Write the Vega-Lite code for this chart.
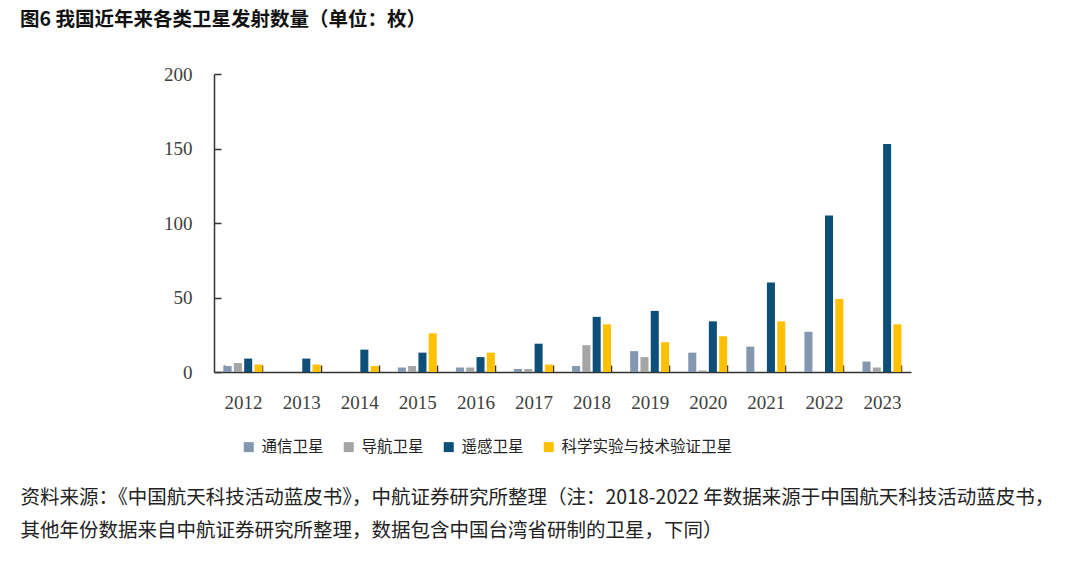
{
  "$schema": "https://vega.github.io/schema/vega-lite/v6.json",
  "autosize": "none",
  "width": 697,
  "height": 298,
  "padding": {"left": 214, "top": 74, "right": 169, "bottom": 192},
  "background": "white",
  "title": {
    "text": "图6  我国近年来各类卫星发射数量（单位：枚）",
    "anchor": "start",
    "frame": "group",
    "dx": -194,
    "offset": 35,
    "font": "Noto Sans CJK SC",
    "fontSize": 19.5,
    "fontWeight": "bold",
    "color": "#111111"
  },
  "data": {
    "values": [
      {"year": "2012", "type": "通信卫星", "value": 4},
      {"year": "2012", "type": "导航卫星", "value": 6},
      {"year": "2012", "type": "遥感卫星", "value": 9},
      {"year": "2012", "type": "科学实验与技术验证卫星", "value": 5},
      {"year": "2013", "type": "遥感卫星", "value": 9},
      {"year": "2013", "type": "科学实验与技术验证卫星", "value": 5},
      {"year": "2014", "type": "遥感卫星", "value": 15},
      {"year": "2014", "type": "科学实验与技术验证卫星", "value": 4},
      {"year": "2015", "type": "通信卫星", "value": 3},
      {"year": "2015", "type": "导航卫星", "value": 4},
      {"year": "2015", "type": "遥感卫星", "value": 13},
      {"year": "2015", "type": "科学实验与技术验证卫星", "value": 26},
      {"year": "2016", "type": "通信卫星", "value": 3},
      {"year": "2016", "type": "导航卫星", "value": 3},
      {"year": "2016", "type": "遥感卫星", "value": 10},
      {"year": "2016", "type": "科学实验与技术验证卫星", "value": 13},
      {"year": "2017", "type": "通信卫星", "value": 2},
      {"year": "2017", "type": "导航卫星", "value": 2},
      {"year": "2017", "type": "遥感卫星", "value": 19},
      {"year": "2017", "type": "科学实验与技术验证卫星", "value": 5},
      {"year": "2018", "type": "通信卫星", "value": 4},
      {"year": "2018", "type": "导航卫星", "value": 18},
      {"year": "2018", "type": "遥感卫星", "value": 37},
      {"year": "2018", "type": "科学实验与技术验证卫星", "value": 32},
      {"year": "2019", "type": "通信卫星", "value": 14},
      {"year": "2019", "type": "导航卫星", "value": 10},
      {"year": "2019", "type": "遥感卫星", "value": 41},
      {"year": "2019", "type": "科学实验与技术验证卫星", "value": 20},
      {"year": "2020", "type": "通信卫星", "value": 13},
      {"year": "2020", "type": "导航卫星", "value": 1},
      {"year": "2020", "type": "遥感卫星", "value": 34},
      {"year": "2020", "type": "科学实验与技术验证卫星", "value": 24},
      {"year": "2021", "type": "通信卫星", "value": 17},
      {"year": "2021", "type": "遥感卫星", "value": 60},
      {"year": "2021", "type": "科学实验与技术验证卫星", "value": 34},
      {"year": "2022", "type": "通信卫星", "value": 27},
      {"year": "2022", "type": "遥感卫星", "value": 105},
      {"year": "2022", "type": "科学实验与技术验证卫星", "value": 49},
      {"year": "2023", "type": "通信卫星", "value": 7},
      {"year": "2023", "type": "导航卫星", "value": 3},
      {"year": "2023", "type": "遥感卫星", "value": 153},
      {"year": "2023", "type": "科学实验与技术验证卫星", "value": 32}
    ]
  },
  "mark": {"type": "bar"},
  "encoding": {
    "x": {
      "field": "year",
      "type": "nominal",
      "sort": null,
      "scale": {"paddingInner": 0.33, "paddingOuter": 0.165},
      "axis": {
        "title": ["资料来源：《中国航天科技活动蓝皮书》，中航证券研究所整理（注：2018-2022 年数据来源于中国航天科技活动蓝皮书，", "其他年份数据来自中航证券研究所整理，数据包含中国台湾省研制的卫星，下同）"],
        "titleFont": "Noto Sans CJK SC",
        "titleFontSize": 19.5,
        "titleFontWeight": "normal",
        "titleColor": "#222222",
        "titleAlign": "left",
        "titleAnchor": "start",
        "titleBaseline": "top",
        "titleX": -194,
        "titleY": 116,
        "titleLineHeight": 33,
        "labelAngle": 0,
        "labelFont": "Liberation Serif",
        "labelFontSize": 19,
        "labelColor": "#404040",
        "labelPadding": 28,
        "tickBand": "extent",
        "tickSize": -7,
        "tickColor": "#333333",
        "tickWidth": 1.5,
        "domainColor": "#333333",
        "domainWidth": 1.5
      }
    },
    "xOffset": {
      "field": "type",
      "type": "nominal",
      "sort": ["通信卫星", "导航卫星", "遥感卫星", "科学实验与技术验证卫星"],
      "scale": {"paddingInner": 0.22, "paddingOuter": 0}
    },
    "y": {
      "field": "value",
      "type": "quantitative",
      "scale": {"domain": [0, 200]},
      "axis": {
        "title": null,
        "values": [0, 50, 100, 150, 200],
        "grid": false,
        "labelFont": "Liberation Serif",
        "labelFontSize": 19,
        "labelColor": "#404040",
        "labelPadding": 29,
        "tickSize": -7,
        "tickColor": "#333333",
        "tickWidth": 1.5,
        "domainColor": "#333333",
        "domainWidth": 1.5
      }
    },
    "color": {
      "field": "type",
      "type": "nominal",
      "sort": ["通信卫星", "导航卫星", "遥感卫星", "科学实验与技术验证卫星"],
      "scale": {
        "domain": ["通信卫星", "导航卫星", "遥感卫星", "科学实验与技术验证卫星"],
        "range": ["#8497b0", "#a5a5a5", "#0e4f79", "#ffc000"]
      },
      "legend": {
        "title": null,
        "orient": "none",
        "legendX": 27,
        "legendY": 365,
        "direction": "horizontal",
        "columns": 4,
        "columnPadding": 17,
        "symbolType": "square",
        "symbolSize": 100,
        "symbolStrokeWidth": 0,
        "labelFont": "Noto Sans CJK SC",
        "labelFontSize": 15.5,
        "labelColor": "#222222",
        "labelOffset": 5,
        "labelLimit": 400
      }
    }
  },
  "config": {
    "view": {"stroke": null}
  }
}
